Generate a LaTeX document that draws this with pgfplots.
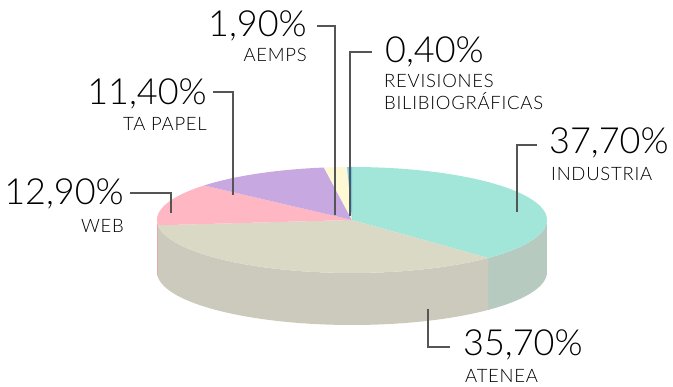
\documentclass[border=0pt]{standalone}
\usepackage{pgfplots}
\pgfplotsset{compat=1.18}
\usepgfplotslibrary{fillbetween}
\usepackage{fontspec}
\setmainfont{Lato}[UprightFont={* Light}]
\definecolor{indT}{HTML}{A2E6DA}
\definecolor{indS}{HTML}{B7CABF}
\definecolor{ateT}{HTML}{DAD9C5}
\definecolor{ateS}{HTML}{CCCABC}
\definecolor{webT}{HTML}{FFB8C3}
\definecolor{webS}{HTML}{E8A8B2}
\definecolor{papT}{HTML}{C8A8E0}
\definecolor{aemT}{HTML}{FFF8D5}
\definecolor{revT}{HTML}{6DCDEB}
\definecolor{leader}{HTML}{555555}
% shares in percent
\def\pI{37.7}\def\pA{35.7}\def\pW{12.9}\def\pT{11.4}\def\pE{1.9}\def\pR{0.4}
\pgfmathsetmacro\aA{90-3.6*\pI}
\pgfmathsetmacro\aB{\aA-3.6*\pA}
\pgfmathsetmacro\aC{\aB-3.6*\pW}
\pgfmathsetmacro\aD{\aC-3.6*\pT}
\pgfmathsetmacro\aE{\aD-3.6*\pE}
\pgfmathsetmacro\aF{\aE-3.6*\pR}
\def\cx{352}\def\cy{167}\def\rx{195}\def\ry{53}\def\dd{52}
\begin{document}
\begin{tikzpicture}
\begin{axis}[width=673pt,height=387pt,scale only axis,
  xmin=0,xmax=673,ymin=0,ymax=387,hide axis,clip=false,
  samples=120,variable=\t]
\path (0,0) rectangle (673,387);
% sides
\addplot[draw=none,name path=t1,domain=\aA:0] ({\cx+\rx*cos(\t)},{\cy+\ry*sin(\t)});
\addplot[draw=none,name path=b1,domain=\aA:0] ({\cx+\rx*cos(\t)},{\cy-\dd+\ry*sin(\t)});
\addplot[fill=indS,draw=none] fill between[of=t1 and b1];
\addplot[draw=none,name path=t2,domain=\aB:\aA] ({\cx+\rx*cos(\t)},{\cy+\ry*sin(\t)});
\addplot[draw=none,name path=b2,domain=\aB:\aA] ({\cx+\rx*cos(\t)},{\cy-\dd+\ry*sin(\t)});
\addplot[fill=ateS,draw=none] fill between[of=t2 and b2];
\addplot[draw=none,name path=t3,domain=-180:\aB] ({\cx+\rx*cos(\t)},{\cy+\ry*sin(\t)});
\addplot[draw=none,name path=b3,domain=-180:\aB] ({\cx+\rx*cos(\t)},{\cy-\dd+\ry*sin(\t)});
\addplot[fill=webS,draw=none] fill between[of=t3 and b3];
% top wedges
\addplot[fill=indT,draw=none,domain=\aA:90] ({\cx+\rx*cos(\t)},{\cy+\ry*sin(\t)}) -- (\cx,\cy) -- cycle;
\addplot[fill=ateT,draw=none,domain=\aB:\aA] ({\cx+\rx*cos(\t)},{\cy+\ry*sin(\t)}) -- (\cx,\cy) -- cycle;
\addplot[fill=webT,draw=none,domain=\aC:\aB] ({\cx+\rx*cos(\t)},{\cy+\ry*sin(\t)}) -- (\cx,\cy) -- cycle;
\addplot[fill=papT,draw=none,domain=\aD:\aC] ({\cx+\rx*cos(\t)},{\cy+\ry*sin(\t)}) -- (\cx,\cy) -- cycle;
\addplot[fill=aemT,draw=none,domain=\aE:\aD,samples=20] ({\cx+\rx*cos(\t)},{\cy+\ry*sin(\t)}) -- (\cx,\cy) -- cycle;
\addplot[fill=revT,draw=none,domain=\aF:\aE,samples=10] ({\cx+\rx*cos(\t)},{\cy+\ry*sin(\t)}) -- (\cx,\cy) -- cycle;
% leader lines
\addplot[leader,line width=1.3pt] coordinates {(517,175) (517,242) (537,242)};
\addplot[leader,line width=1.3pt] coordinates {(428,78) (428,40) (450,40)};
\addplot[leader,line width=1.3pt] coordinates {(171,174) (171,194) (130,194)};
\addplot[leader,line width=1.3pt] coordinates {(233,192) (233,295) (213,295)};
\addplot[leader,line width=1.3pt] coordinates {(335,172) (335,361) (317,361)};
\addplot[leader,line width=1.3pt] coordinates {(350,171) (350,335) (372,335)};
% labels
\tikzset{big/.style={inner sep=0pt,font=\fontsize{36}{36}\selectfont},
         small/.style={inner sep=0pt,font=\fontsize{18.5}{18.5}\selectfont\addfontfeatures{LetterSpace=4}}}
\node[big,anchor=base west] at (549,233) {37,70\%};
\node[small,anchor=base west] at (551,206) {INDUSTRIA};
\node[big,anchor=base west] at (463,31) {35,70\%};
\node[small,anchor=base west] at (465,4) {ATENEA};
\node[big,anchor=base east] at (124,182) {12,90\%};
\node[small,anchor=base east] at (124,154) {WEB};
\node[big,anchor=base east] at (207,282) {11,40\%};
\node[small,anchor=base east] at (207,256) {TA PAPEL};
\node[big,anchor=base east] at (307,350) {1,90\%};
\node[small,anchor=base east] at (307,325) {AEMPS};
\node[big,anchor=base west] at (385,324) {0,40\%};
\node[small,anchor=base west] at (384,299) {REVISIONES};
\node[small,anchor=base west] at (384,277) {BILIBIOGRÁFICAS};
\end{axis}
\end{tikzpicture}
\end{document}
